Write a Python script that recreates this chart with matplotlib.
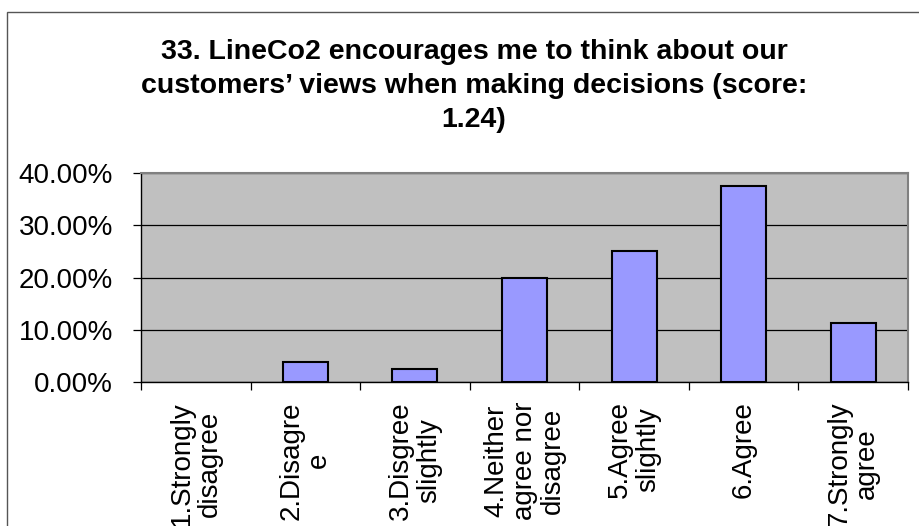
import numpy as np
import matplotlib.pyplot as plt
from matplotlib.patches import Rectangle
from matplotlib.ticker import FuncFormatter, MultipleLocator, FixedLocator

plt.rcParams['font.family'] = ['Liberation Sans', 'DejaVu Sans']

categories = ["1.Strongly\ndisagree", "2.Disagre\ne", "3.Disgree\nslightly",
              "4.Neither\nagree nor\ndisagree", "5.Agree\nslightly",
              "6.Agree", "7.Strongly\nagree"]
shares = [0.0, 3.75, 2.5, 20.0, 25.0, 37.5, 11.25]
title = ("33. LineCo2 encourages me to think about our\n"
         "customers\u2019 views when making decisions (score:\n1.24)")

fig = plt.figure(figsize=(9.2, 5.26), dpi=100)
ax = fig.add_axes([141/920, 1 - 382/526, 767/920, 209/526])

# chart frame, open on the right and bottom
fig.patches.append(Rectangle((7/920, -0.1), 1.2, 1 - 12/526 + 0.1,
                             transform=fig.transFigure, fill=False,
                             edgecolor='#555555', linewidth=1.0))

x = np.arange(len(categories))
ax.set_facecolor('#C0C0C0')
edges = ['black' if v > 0 else 'none' for v in shares]
ax.bar(x, shares, width=0.41, color='#9999FF', edgecolor=edges,
       linewidth=1.5, zorder=3)

ax.set_xlim(-0.5, len(categories) - 0.5)
ax.set_ylim(0, 40)
ax.yaxis.set_major_locator(MultipleLocator(10))
ax.yaxis.set_major_formatter(FuncFormatter(lambda v, p: f"{v:.2f}%"))
ax.grid(axis='y', color='black', linewidth=0.9, zorder=1)

ax.set_xticks(x)
ax.set_xticklabels(categories, rotation=90, fontsize=20, va='top',
                   ha='center', linespacing=1.1)
ax.xaxis.set_minor_locator(FixedLocator(np.arange(-0.5, len(categories), 1)))
ax.tick_params(axis='x', which='major', length=0, pad=14)
ax.tick_params(axis='x', which='minor', length=6, width=0.9, color='black')
ax.tick_params(axis='y', labelsize=20, length=6, width=0.9, pad=14)

for side in ['left', 'bottom']:
    ax.spines[side].set_color('black')
    ax.spines[side].set_linewidth(1.0)
for side in ['top', 'right']:
    ax.spines[side].set_color('#808080')
    ax.spines[side].set_linewidth(1.5)

fig.text(474/920, 1 - 86/526, title, ha='center', va='center',
         fontsize=20.5, fontweight='bold', linespacing=1.38)

fig.savefig('out.png', dpi=100)
